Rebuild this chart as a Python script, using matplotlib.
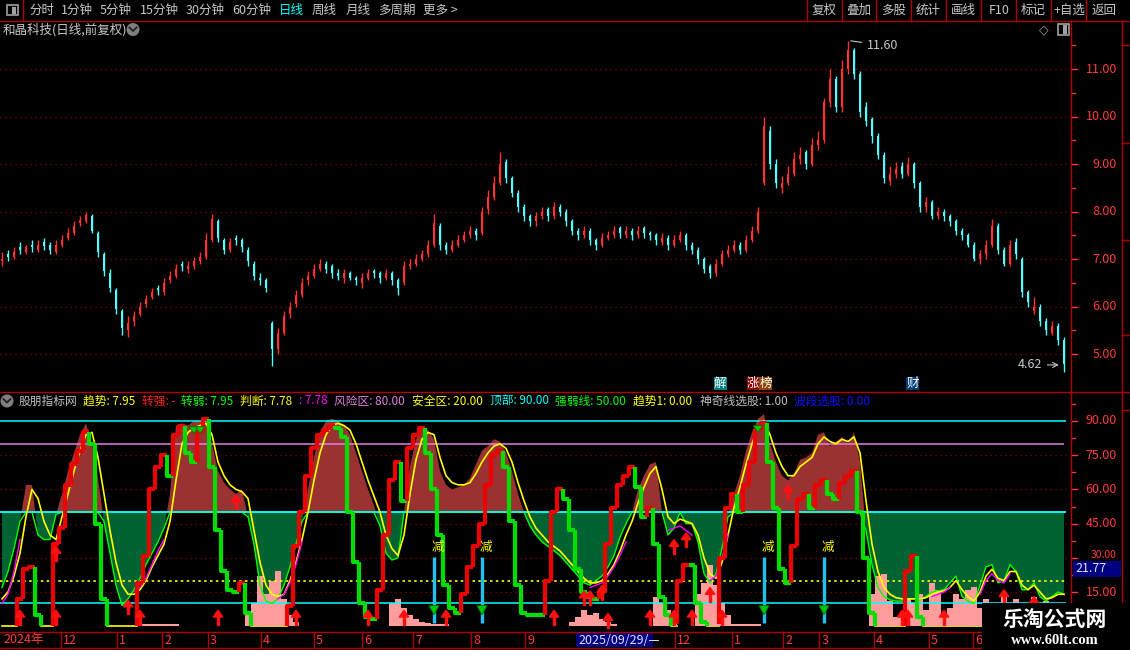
import numpy as np
import matplotlib
matplotlib.use("Agg")
import matplotlib.pyplot as plt
from matplotlib.patches import Rectangle, Polygon, Ellipse
from matplotlib.collections import LineCollection

plt.rcParams['font.family'] = ['Noto Sans CJK SC', 'DejaVu Sans']

# --- price bars (daily, oldest first) ---
opens = [6.95, 7.10, 7.05, 7.25, 7.15, 7.30, 7.20, 7.35, 7.30, 7.15,
         7.30, 7.45, 7.55, 7.75, 7.80, 7.90, 7.55, 7.10, 6.70, 6.35,
         5.90, 5.50, 5.70, 5.85, 6.05, 6.20, 6.40, 6.30, 6.55, 6.65,
         6.90, 6.80, 6.85, 6.95, 7.05, 7.40, 7.80, 7.40, 7.20, 7.45,
         7.40, 7.20, 6.90, 6.60, 6.55, 5.65, 5.10, 5.45, 5.85, 6.05,
         6.25, 6.55, 6.65, 6.80, 6.90, 6.85, 6.70, 6.60, 6.70, 6.60,
         6.50, 6.60, 6.75, 6.70, 6.60, 6.70, 6.55, 6.50, 6.85, 6.90,
         7.00, 7.10, 7.30, 7.70, 7.30, 7.20, 7.30, 7.40, 7.50, 7.60,
         7.55, 8.05, 8.30, 8.60, 9.05, 8.70, 8.40, 8.10, 7.90, 7.80,
         7.90, 8.05, 7.90, 8.10, 8.00, 7.80, 7.60, 7.50, 7.60, 7.40,
         7.30, 7.45, 7.50, 7.65, 7.50, 7.60, 7.50, 7.65, 7.55, 7.50,
         7.35, 7.45, 7.30, 7.40, 7.50, 7.30, 7.20, 7.00, 6.85, 6.70,
         6.90, 7.10, 7.20, 7.30, 7.20, 7.40, 7.60, 8.60, 9.70, 9.00,
         8.50, 8.60, 8.80, 9.10, 9.25, 9.00, 9.40, 9.50, 10.30, 10.80,
         10.20, 11.00, 11.40, 10.90, 10.20, 9.95, 9.60, 9.20, 8.65, 8.80,
         8.95, 8.80, 9.00, 8.60, 8.10, 8.20, 7.90, 8.00, 7.90, 7.80,
         7.60, 7.50, 7.30, 7.00, 7.10, 7.30, 7.70, 7.20, 6.90, 7.35,
         7.00, 6.30, 5.90, 6.00, 5.70, 5.45, 5.60, 5.30]
closes = [7.00, 7.05, 7.15, 7.20, 7.25, 7.25, 7.30, 7.28, 7.20, 7.30,
          7.40, 7.55, 7.70, 7.82, 7.92, 7.60, 7.15, 6.75, 6.40, 5.95,
          5.55, 5.65, 5.80, 6.00, 6.15, 6.30, 6.35, 6.50, 6.65, 6.80,
          6.85, 6.85, 6.95, 7.05, 7.40, 7.85, 7.45, 7.20, 7.35, 7.40,
          7.25, 6.95, 6.65, 6.55, 6.40, 5.10, 5.45, 5.80, 6.00, 6.25,
          6.50, 6.65, 6.80, 6.90, 6.80, 6.70, 6.65, 6.70, 6.60, 6.55,
          6.60, 6.70, 6.70, 6.60, 6.70, 6.55, 6.40, 6.85, 6.90, 7.00,
          7.10, 7.30, 7.75, 7.30, 7.20, 7.30, 7.40, 7.50, 7.60, 7.50,
          8.00, 8.30, 8.60, 9.00, 8.70, 8.40, 8.10, 7.90, 7.80, 7.90,
          8.00, 7.90, 8.10, 8.00, 7.80, 7.60, 7.50, 7.60, 7.40, 7.30,
          7.45, 7.50, 7.60, 7.55, 7.60, 7.50, 7.60, 7.55, 7.50, 7.40,
          7.45, 7.30, 7.40, 7.50, 7.30, 7.20, 7.00, 6.80, 6.70, 6.90,
          7.10, 7.20, 7.30, 7.20, 7.40, 7.60, 8.00, 9.80, 9.00, 8.60,
          8.60, 8.80, 9.10, 9.20, 9.00, 9.40, 9.50, 10.30, 10.80, 10.20,
          11.00, 11.40, 10.90, 10.10, 9.90, 9.60, 9.20, 8.70, 8.80, 8.90,
          8.80, 9.00, 8.60, 8.10, 8.20, 7.90, 8.00, 7.90, 7.80, 7.60,
          7.50, 7.30, 7.00, 7.10, 7.30, 7.70, 7.20, 6.90, 7.30, 7.10,
          6.30, 6.10, 6.00, 5.70, 5.50, 5.60, 5.30, 4.80]
highs = [7.15, 7.20, 7.25, 7.35, 7.30, 7.40, 7.40, 7.45, 7.35, 7.40,
         7.50, 7.65, 7.80, 7.90, 7.98, 7.95, 7.60, 7.15, 6.80, 6.40,
         5.95, 5.80, 5.90, 6.10, 6.25, 6.40, 6.45, 6.60, 6.75, 6.90,
         6.95, 6.95, 7.05, 7.15, 7.55, 7.95, 7.85, 7.45, 7.45, 7.50,
         7.45, 7.25, 6.95, 6.70, 6.60, 5.70, 5.55, 5.90, 6.10, 6.35,
         6.60, 6.75, 6.90, 7.00, 6.95, 6.90, 6.80, 6.80, 6.75, 6.65,
         6.70, 6.80, 6.80, 6.75, 6.80, 6.75, 6.60, 6.95, 7.00, 7.10,
         7.20, 7.40, 7.95, 7.75, 7.35, 7.40, 7.50, 7.60, 7.70, 7.65,
         8.10, 8.45, 8.75, 9.25, 9.10, 8.75, 8.45, 8.15, 7.95, 8.00,
         8.10, 8.10, 8.20, 8.15, 8.05, 7.85, 7.65, 7.70, 7.65, 7.45,
         7.55, 7.60, 7.70, 7.70, 7.70, 7.65, 7.70, 7.70, 7.60, 7.55,
         7.55, 7.50, 7.50, 7.60, 7.55, 7.35, 7.25, 7.05, 6.90, 7.00,
         7.20, 7.30, 7.40, 7.35, 7.50, 7.70, 8.10, 10.00, 9.80, 9.10,
         8.75, 8.95, 9.25, 9.35, 9.30, 9.55, 9.70, 10.40, 11.00, 10.85,
         11.20, 11.60, 11.45, 10.95, 10.30, 10.00, 9.65, 9.25, 8.95, 9.05,
         9.05, 9.15, 9.05, 8.65, 8.30, 8.25, 8.10, 8.05, 7.95, 7.85,
         7.65, 7.55, 7.35, 7.20, 7.40, 7.85, 7.75, 7.25, 7.40, 7.45,
         7.05, 6.35, 6.20, 6.05, 5.75, 5.70, 5.65, 5.35]
lows = [6.85, 6.95, 7.00, 7.10, 7.10, 7.15, 7.15, 7.20, 7.10, 7.10,
        7.25, 7.40, 7.50, 7.70, 7.75, 7.55, 7.05, 6.65, 6.30, 5.85,
        5.40, 5.35, 5.60, 5.80, 6.00, 6.15, 6.25, 6.25, 6.50, 6.60,
        6.75, 6.70, 6.80, 6.90, 7.00, 7.35, 7.35, 7.10, 7.15, 7.30,
        7.15, 6.85, 6.55, 6.45, 6.30, 4.75, 5.00, 5.40, 5.75, 6.00,
        6.20, 6.45, 6.60, 6.75, 6.70, 6.60, 6.55, 6.50, 6.55, 6.45,
        6.40, 6.55, 6.60, 6.50, 6.55, 6.45, 6.25, 6.45, 6.80, 6.85,
        6.95, 7.05, 7.25, 7.20, 7.10, 7.15, 7.25, 7.35, 7.45, 7.40,
        7.50, 7.95, 8.25, 8.55, 8.60, 8.30, 8.00, 7.80, 7.70, 7.70,
        7.85, 7.80, 7.85, 7.90, 7.70, 7.50, 7.40, 7.45, 7.30, 7.20,
        7.25, 7.40, 7.45, 7.45, 7.45, 7.40, 7.45, 7.45, 7.40, 7.30,
        7.30, 7.20, 7.25, 7.35, 7.20, 7.10, 6.90, 6.70, 6.60, 6.65,
        6.85, 7.05, 7.15, 7.10, 7.15, 7.35, 7.55, 8.55, 8.90, 8.50,
        8.40, 8.55, 8.75, 9.00, 8.90, 8.95, 9.30, 9.45, 10.20, 10.10,
        10.10, 10.90, 10.80, 10.00, 9.80, 9.45, 9.10, 8.60, 8.55, 8.70,
        8.70, 8.75, 8.50, 8.00, 8.00, 7.85, 7.85, 7.80, 7.70, 7.50,
        7.40, 7.25, 6.95, 6.90, 7.00, 7.25, 7.10, 6.85, 6.85, 7.00,
        6.20, 6.00, 5.85, 5.60, 5.40, 5.40, 5.20, 4.62]

# --- indicator series ---
area = [17, 24, 34, 46, 62, 62, 40, 38, 38, 49,
        58, 68, 76, 84, 89, 80, 65, 46, 32, 18,
        9, 12, 16, 21, 27, 32, 37, 43, 58, 88,
        89, 88, 90, 90, 91, 80, 68, 63, 60, 58,
        60, 48, 36, 18, 11, 10, 12, 18, 26, 36,
        46, 60, 74, 85, 90, 91, 90, 88, 84, 76,
        68, 60, 53, 44, 32, 29, 30, 50, 70, 82,
        87, 86, 82, 68, 62, 60, 61, 62, 65, 71,
        77, 79, 82, 81, 76, 68, 58, 50, 44, 40,
        37, 35, 33, 31, 28, 25, 22, 19, 18, 20,
        22, 26, 31, 39, 45, 50, 60, 66, 71, 72,
        50, 40, 43, 50, 45, 45, 37, 23, 19, 23,
        34, 48, 58, 66, 77, 85, 91, 93, 80, 72,
        66, 64, 67, 73, 74, 76, 84, 85, 79, 81,
        83, 80, 85, 72, 42, 27, 17, 13, 11.5, 11,
        11, 12, 12, 11.5, 13, 15, 15.5, 16, 19, 22,
        13, 11, 10, 18, 26, 27, 19, 20, 27, 24,
        16, 16, 19, 13, 11, 13, 15, 14]
trend = [12, 15, 22, 32, 48, 60, 56, 46, 40, 38,
         48, 58, 68, 77, 84, 85, 74, 58, 42, 28,
         18, 14, 14, 16, 20, 26, 31, 36, 46, 64,
         80, 85, 87, 88, 89, 84, 72, 66, 62, 60,
         59, 56, 42, 28, 18, 14, 13, 14, 20, 28,
         38, 50, 64, 76, 84, 88, 89, 88, 86, 80,
         72, 64, 57, 50, 40, 34, 31, 40, 58, 73,
         82, 85, 84, 74, 66, 63, 62, 62, 63, 67,
         72, 76, 79, 80, 78, 72, 63, 55, 48, 43,
         40, 37, 35, 33, 30, 27, 24, 21, 19, 19,
         20, 23, 27, 33, 40, 46, 54, 61, 67, 70,
         60, 48, 45, 47, 46, 45, 40, 30, 23, 21,
         28, 40, 52, 61, 71, 80, 87, 90, 84, 76,
         70, 66, 66, 70, 72, 74, 80, 83, 81, 80,
         82, 81, 83, 76, 55, 36, 24, 17, 14, 12.5,
         12, 12, 12, 12, 12.5, 14, 15, 15.5, 17, 20,
         16, 13, 11, 15, 22, 25, 21, 20, 24, 24,
         18, 16, 18, 15, 12, 12.5, 14, 14]
step = [0, 0, 0, 12, 25, 26, 5, 0, 0, 36,
        43, 62, 71, 77, 85, 80, 45, 12, 0, 0,
        0, 0, 0, 19, 31, 60, 70, 75, 66, 84,
        88, 76, 72, 85, 91, 70, 42, 24, 16, 15,
        19, 6, 0, 0, 0, 0, 0, 0, 9, 35,
        50, 66, 78, 84, 86, 88, 87, 83, 50, 28,
        10, 4, 3, 16, 40, 64, 72, 55, 78, 84,
        87, 76, 60, 40, 18, 8, 6, 14, 26, 35,
        45, 62, 75, 77, 70, 46, 18, 6, 5, 5,
        5, 20, 50, 60, 56, 42, 25, 15, 13, 12,
        15, 36, 52, 62, 66, 70, 61, 48, 52, 36,
        13, 5, 1, 20, 27, 27, 10, 2, 1, 1,
        30, 52, 58, 50, 62, 72, 86, 89, 72, 52,
        25, 19, 35, 56, 58, 52, 62, 64, 58, 56,
        63, 66, 68, 50, 30, 6, 0, 0, 0, 0,
        0, 24, 31, 4, 0, 0, 0, 0, 0, 0,
        0, 0, 0, 0, 0, 0, 0, 0, 0, 0,
        0, 0, 0, 0, 0, 0, 0, 0]
pink = [0, 0, 0, 0, 0, 0, 0, 0, 0, 0,
        0, 0, 0, 0, 0, 0, 0, 0, 0, 0,
        0, 0, 0, 1, 1, 1, 1, 1, 1, 1,
        0, 0, 0, 0, 0, 0, 0, 0, 0, 0,
        0, 5, 10, 22, 14, 20, 24, 12, 5, 2,
        0, 0, 0, 0, 0, 0, 0, 0, 0, 0,
        0, 0, 0, 0, 0, 10, 12, 8, 5, 3,
        2, 1.5, 1, 1, 1, 0, 0, 0, 0, 0,
        0, 0, 0, 0, 0, 0, 0, 0, 0, 0,
        0, 0, 0, 0, 0, 2, 4, 7, 5, 6,
        3, 2, 1, 0, 0, 0, 0, 0, 0, 13,
        10, 7, 4, 0, 0, 0, 14, 19, 27, 18,
        10, 5, 1, 1, 1, 1, 1, 0, 0, 0,
        0, 0, 0, 0, 0, 0, 0, 0, 0, 0,
        0, 0, 0, 0, 0, 14, 22, 23, 11, 4,
        4, 12, 10, 14, 7, 19, 16, 6, 8, 14,
        12, 16, 17, 8, 12, 6, 10, 14, 8, 12,
        6, 9, 13, 7, 11, 6, 9, 10]
# magenta line only shows in a few rising stretches
mag_start = [0, 9, 22, 46, 98, 111, 118, 155, 163]
mag_vals = [[10, 14, 24, 38], [36, 44], [15, 17, 21, 27, 33, 38],
            [12, 14, 19, 27, 37], [17, 18, 19, 22, 26, 31, 37],
            [42, 43, 44, 42, 40], [20, 22, 30, 40], [13, 14, 15, 17],
            [14, 20, 23, 20, 19, 23]]

# signals: (bar, value at tip)
buy_bar = [3, 9, 9, 21, 23, 36, 39, 49, 61, 67, 74, 92, 97, 98, 100, 101,
           108, 112, 112, 114, 115, 118, 120, 131, 150, 151, 157, 167, 172]
buy_val = [7, 35, 7, 11.5, 7, 7, 57.5, 7, 7, 7, 7, 7, 15.5, 15.5, 18, 5.6,
           7, 38, 7, 41, 7, 17, 7, 62, 7, 7, 7, 16, 13]
sell_bar = [32, 33, 126]
sell_val = [84.5, 84.5, 85]
cut_bar = [72, 80, 127, 137]          # cyan line + green arrow + 减

# marker boxes under price panel
tag_text = ['解', '涨', '榜', '财']
tag_bar = [119.7, 125.2, 127.3, 151.8]
tag_color = ['#008080', '#8b0000', '#8b4500', '#003c78']

# axis labels
price_ticks = [5, 6, 7, 8, 9, 10, 11]
ind_ticks = [15, 30, 45, 60, 75, 90]
month_pos = [9.8, 19.2, 26.7, 34.3, 43.2, 52.0, 60.0, 68.5, 78.2, 87.2,
             112.2, 121.7, 130.2, 136.2, 145.3, 154.5, 161.8]
month_lab = ['12', '1', '2', '3', '4', '5', '6', '7', '8', '9',
             '12', '1', '2', '3', '4', '5', '6']

tool_left = ['分时', '1分钟', '5分钟', '15分钟', '30分钟', '60分钟', '日线', '周线', '月线', '多周期', '更多 >']
tool_left_x = [29, 61, 100, 140, 186, 232, 279, 312, 346, 378, 423]
tool_right = ['复权', '叠加', '多股', '统计', '画线', 'F10', '标记', '+自选', '返回']
tool_right_x = [824, 859, 894, 928, 963, 999, 1033, 1069, 1104]
tool_sep_x = [807, 842, 876, 911, 946, 981, 1016, 1051, 1086]

title_txt = ['股朋指标网', '趋势: 7.95', '转强: -', '转弱: 7.95', '判断: 7.78', ': 7.78',
             '风险区: 80.00', '安全区: 20.00', '顶部: 90.00', '强弱线: 50.00',
             '趋势1: 0.00', '神奇线选股: 1.00', '波段选股: 0.00']
title_x = [19, 83, 142, 181, 240, 299, 334, 412, 490, 555, 633, 700, 794]
title_col = ['#c0c0c0', '#ffff00', '#ff2020', '#00ff00', '#ffff00', '#ff00ff',
             '#e080e0', '#ffff00', '#00ffff', '#00ff00', '#ffff00', '#c0c0c0', '#1010ff']

W, H = 1130, 650
BAR = 6.0
X0 = 2.0
RED = '#b00000'
LAB = '#ff3c3c'
GRID = '#900000'

fig = plt.figure(figsize=(W / 100, H / 100), dpi=100, facecolor='black')


def box(x0, y0, x1, y1):
    return [x0 / W, 1 - y1 / H, (x1 - x0) / W, (y1 - y0) / H]


def frect(x0, y0, x1, y1, **kw):
    fig.add_artist(Rectangle((x0 / W, 1 - y1 / H), (x1 - x0) / W, (y1 - y0) / H,
                             transform=fig.transFigure, **kw))


def fline(xs, ys, **kw):
    fig.add_artist(plt.Line2D([x / W for x in xs], [1 - y / H for y in ys],
                              transform=fig.transFigure, **kw))


def ftext(x, y, s, **kw):
    return fig.text(x / W, 1 - y / H, s, **kw)


xlim = (-X0 / BAR, (1070 - X0) / BAR)
n = len(closes)
idx = np.arange(n)

# ---------------- price panel ----------------
ax = fig.add_axes(box(0, 35, 1070, 389))
ax.set_facecolor('black')
ax.set_xlim(*xlim)
ax.set_ylim(11 - (389 - 69) / 47.5, 11 + (69 - 35) / 47.5)
ax.axis('off')

ax.hlines(price_ticks, xlim[0], xlim[1], colors=GRID, linestyles=(0, (1, 3)), lw=0.9, zorder=1)

o = np.array(opens)
c = np.array(closes)
col = np.where(c > o, '#ff3232', np.where(c < o, '#54fcfc', '#ffffff'))
ax.vlines(idx, lows, highs, colors=col, lw=1.0, zorder=2)
ax.bar(idx, np.maximum(np.abs(c - o), 0.02), bottom=np.minimum(o, c), width=0.42,
       color=col, lw=0, zorder=3)

ytr = ax.get_yaxis_transform()
for p in price_ticks:
    ax.text(1117 / 1070, p, f'{p:.2f}', transform=ytr, ha='right', va='center',
            color=LAB, fontsize=9, clip_on=False)
    ax.plot([1071 / 1070, 1077 / 1070], [p, p], transform=ytr, color=LAB, lw=1, clip_on=False)
    ax.plot([1071 / 1070, 1075 / 1070], [p + 0.5, p + 0.5], transform=ytr, color=LAB, lw=1, clip_on=False)

ax.annotate('11.60', xy=(141, 11.6), xytext=(144.2, 11.5), color='#c8c8c8', fontsize=9,
            va='center', arrowprops=dict(arrowstyle='-', color='#c8c8c8', lw=0.8))
ax.annotate('4.62', xy=(176.6, 4.77), xytext=(173.3, 4.77), color='#c8c8c8', fontsize=9,
            va='center', ha='right',
            arrowprops=dict(arrowstyle='->', color='#c8c8c8', lw=0.8))

# ---------------- indicator panel ----------------
ix = fig.add_axes(box(0, 393, 1070, 630))
ix.set_facecolor('black')
ix.set_xlim(*xlim)
ix.set_ylim(90 - (630 - 421) / 2.28, 90 + (421 - 393) / 2.28)
ix.axis('off')

A = np.array(area, dtype=float)
ix.hlines([15, 30, 45, 60, 75], xlim[0], xlim[1], colors=GRID, linestyles=(0, (1, 3)), lw=0.9, zorder=1)
ix.fill_between(idx, A, 50, where=A >= 50, interpolate=True, color='#9a3232', lw=0, zorder=2)
ix.fill_between(idx, A, 50, where=A <= 50, interpolate=True, color='#006432', lw=0, zorder=2)

S = np.array(step, dtype=float)
floor = np.where(S <= 1, 0.0, np.nan)
ix.plot(idx, floor, color='#ffff00', lw=1.2, drawstyle='steps-mid', zorder=2.5)

ix.bar(idx, pink, width=0.95, color='#ff9c9c', lw=0, zorder=3)

ix.hlines([90, 50, 10], -0.3, 177.3, colors='#00ffff', lw=1.1, zorder=4)
ix.hlines([80], -0.3, 177.0, colors='#e080e0', lw=1.1, zorder=4)
ix.hlines([20], -0.3, 177.3, colors='#ffff00', linestyles=(0, (1.5, 2)), lw=1.2, zorder=4)

ix.plot(idx, np.minimum(A, 50), color='#00ff00', lw=1.0, zorder=4.5)
ix.hlines([50], -0.3, 177.3, colors='#00ffff', lw=1.1, zorder=4.6)
ix.plot(idx, trend, color='#ffff00', lw=1.2, zorder=5)
for s0, vals in zip(mag_start, mag_vals):
    ix.plot(np.arange(s0, s0 + len(vals)), vals, color='#ff00ff', lw=1.0, zorder=5)

segs, cols = [], []
for i in range(1, n):
    a, b = S[i - 1], S[i]
    if a <= 1 and b <= 1:
        continue
    colr = '#ee0000' if b > a else '#00dd00'
    if b <= 1:
        segs.append([(i - 0.5, a), (i - 0.5, 0)])
    else:
        segs.append([(i - 0.5, max(a, 0)), (i - 0.5, b), (i + 0.5, b)])
    cols.append(colr)
ix.add_collection(LineCollection(segs, colors=cols, lw=3.0, zorder=6, capstyle='butt'))

for b_, v in zip(buy_bar, buy_val):
    ix.add_patch(Polygon([(b_ - 0.8, v - 3.0), (b_ + 0.8, v - 3.0), (b_, v)],
                         closed=True, color='#ff1010', zorder=7))
    ix.add_patch(Rectangle((b_ - 0.22, v - 6.3), 0.44, 3.4, color='#ff1010', zorder=7))

for b_, v in zip(sell_bar, sell_val):
    ix.add_patch(Polygon([(b_ - 0.8, v + 3.0), (b_ + 0.8, v + 3.0), (b_, v)],
                         closed=True, facecolor='#00c800', edgecolor='#007000', lw=0.6, zorder=7))

for b_ in cut_bar:
    ix.vlines(b_, 1.5, 30.5, colors='#20c0f0', lw=2.4, zorder=6.5)
    ix.add_patch(Polygon([(b_ - 0.85, 9.0), (b_ + 0.85, 9.0), (b_, 5.0)],
                         closed=True, facecolor='#00c800', edgecolor='#007000', lw=0.6, zorder=7))
    ix.text(b_ + 0.7, 34.5, '减', color='#ffff00', fontsize=9, ha='center', va='center', zorder=8)

ytr2 = ix.get_yaxis_transform()
for v in ind_ticks:
    # the 30.00 label sits partly under the value box, as on screen
    ix.text(1117 / 1070, v + (1.3 if v == 30 else 0), f'{v:.2f}', transform=ytr2,
            ha='right', va='center', color=LAB, fontsize=9 if v != 30 else 7.5, clip_on=False)
    ix.plot([1071 / 1070, 1077 / 1070], [v, v], transform=ytr2, color=LAB, lw=1, clip_on=False)
    ix.plot([1071 / 1070, 1075 / 1070], [v + 7.5, v + 7.5], transform=ytr2, color=LAB, lw=1, clip_on=False)

# ---------------- frame, toolbar, titles ----------------
frect(0, 0, W, 20, facecolor='black', lw=0)
fline([0, W], [20.5, 20.5], color=RED, lw=1)
fline([23, 23], [0, 20.5], color=RED, lw=1)
for xs in tool_sep_x:
    fline([xs, xs], [0, 20.5], color=RED, lw=1)
frect(6.5, 5, 17.5, 15, facecolor='none', edgecolor='#a0a0a0', lw=1.2)
frect(12, 6.5, 16, 13.5, facecolor='#a0a0a0', lw=0)
for t, x in zip(tool_left, tool_left_x):
    ftext(x, 10.5, t, color='#00ffff' if t == '日线' else '#c8c8c8', fontsize=9, va='center')
for t, x in zip(tool_right, tool_right_x):
    ftext(x, 10.5, t, color='#c8c8c8', fontsize=9, va='center', ha='center')

fline([1071, 1071], [20.5, H], color=RED, lw=1)
fline([1122, 1122], [20.5, H], color=RED, lw=1)
for yy in [45, 143, 240, 335, 410]:
    fline([1122, W], [yy, yy], color=RED, lw=1)
fline([0, W], [391.5, 391.5], color=RED, lw=1)
fline([0, W], [631.5, 631.5], color=RED, lw=1)
fline([0, W], [647.5, 647.5], color=RED, lw=1)

ftext(3, 29.5, '和晶科技(日线,前复权)', color='#c8c8c8', fontsize=9, va='center')
fig.add_artist(Ellipse((133 / W, 1 - 29.5 / H), 13 / W, 13 / H, transform=fig.transFigure,
                       facecolor='#808080', lw=0))
fline([129.5, 133, 136.5], [27.5, 31, 27.5], color='#202020', lw=1.3)
ftext(1044, 29.5, '◇', color='#a0a0a0', fontsize=9, va='center', ha='center', family='DejaVu Sans')
frect(1057.5, 24, 1068.5, 35, facecolor='none', edgecolor='#a0a0a0', lw=1.2)
frect(1063, 25.5, 1067, 33.5, facecolor='#a0a0a0', lw=0)

fig.add_artist(Ellipse((7 / W, 1 - 401 / H), 13 / W, 13 / H, transform=fig.transFigure,
                       facecolor='#808080', lw=0))
fline([3.5, 7, 10.5], [399, 402.5, 399], color='#202020', lw=1.3)
for t, x, cl in zip(title_txt, title_x, title_col):
    ftext(x, 401, t, color=cl, fontsize=8.5, va='center')

for t, b_, cl in zip(tag_text, tag_bar, tag_color):
    px = X0 + BAR * b_
    frect(px - 6.5, 377, px + 6.5, 390, facecolor=cl, lw=0)
    ftext(px, 383.5, t, color='#ffffff', fontsize=9, ha='center', va='center')

# value box on indicator axis
frect(1073, 561, 1121, 577, facecolor='#000080', lw=0)
ftext(1075, 569, '21.77', color='#e0e0ff', fontsize=9, va='center')

# date axis
ftext(3, 640, '2024年', color=LAB, fontsize=9, va='center')
for pos, lab in zip(month_pos, month_lab):
    px = X0 + BAR * pos
    fline([px, px], [631.5, 647], color=RED, lw=1)
    ftext(px + 2, 640, lab, color=LAB, fontsize=9, va='center')
frect(576, 633, 653, 647, facecolor='#000080', lw=0)
ftext(578, 640, '2025/09/29/—', color='#e0e0ff', fontsize=9, va='center')

# watermark
frect(982, 603, W, H, facecolor='black', lw=0, zorder=5)
ftext(1055, 619, '乐淘公式网', color='#ffffff', fontsize=15, fontweight='bold',
      ha='center', va='center', zorder=6)
ftext(1055, 640, 'www.60lt.com', color='#ffffff', fontsize=10.5, fontweight='bold',
      ha='center', va='center', family=['Liberation Serif', 'DejaVu Serif'], zorder=6)

fig.savefig('out.png', dpi=100, facecolor='black')
